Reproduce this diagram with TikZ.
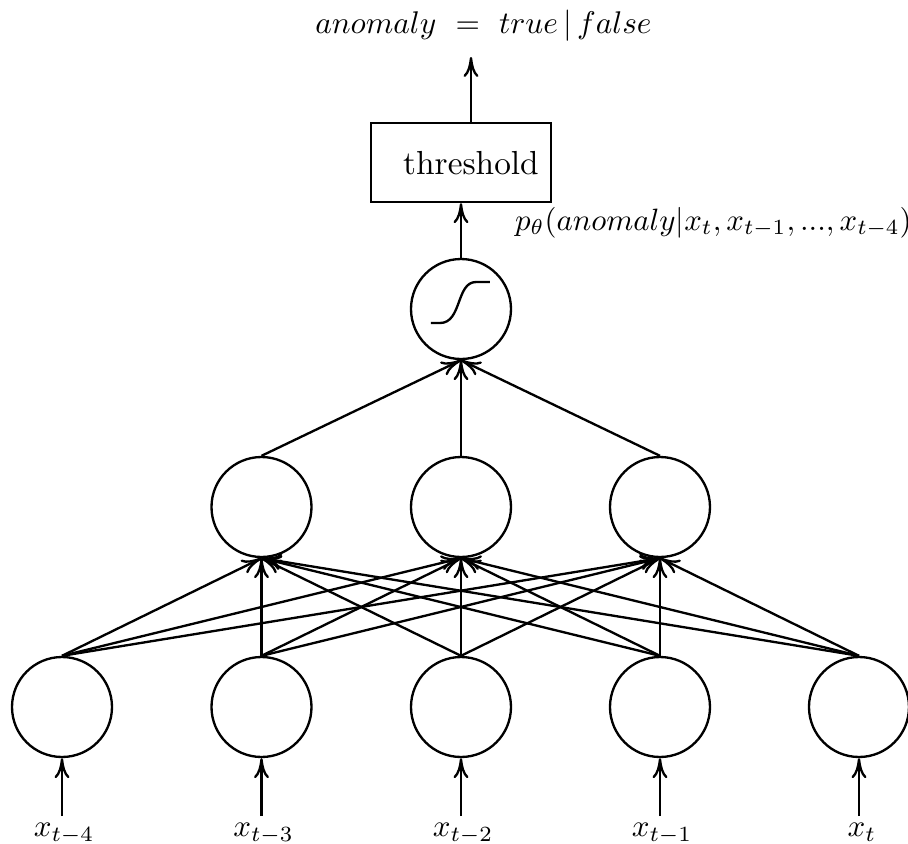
\documentclass[tikz,border=0pt]{standalone}
\usetikzlibrary{arrows.meta}
\begin{document}
\begin{tikzpicture}[x=0.3pt,y=-0.3pt,line width=0.7pt,
  neuron/.style={draw,circle,minimum size=30pt,inner sep=0pt},
  link/.style={-{To[length=6pt,width=4.5pt]}},
  boxnode/.style={draw,minimum width=54pt,minimum height=23.7pt,inner sep=0pt},
  inlabel/.style={anchor=north,inner xsep=0pt,inner ysep=1.8pt}]
\useasboundingbox (0,0) rectangle (908,844);

% input layer
\foreach \i/\x in {1/62,2/261.5,3/461,4/660,5/859}
  \node[neuron] (I\i) at (\x,707) {};
% hidden layer
\foreach \i/\x in {1/261.5,2/461,3/660}
  \node[neuron] (H\i) at (\x,507) {};
% output neuron with its sigmoid sketch
\node[neuron] (S) at (461,309) {};
\draw (431,323) -- (440,323) .. controls (462,323) and (456,282) .. (476,282) -- (490,282);

% threshold box
\node[boxnode] (thr) at (461,162.5) {};
\node[inner sep=0pt] (thrtext) at (471,163.5) {threshold};

% labels
\node[anchor=south,inner xsep=0pt,inner ysep=4.5pt] (top) at (483.5,57)
  {\scalebox{0.94}{$anomaly\ =\ true\,|\,false$}};
\node[anchor=west,inner sep=0pt] (prob) at (514,222.5)
  {\scalebox{0.925}{$p_\theta(anomaly|x_t,x_{t-1},...,x_{t-4})$}};
\node[inlabel] (L1) at (64,816)    {\scalebox{0.93}{$x_{t-4}$}};
\node[inlabel] (L2) at (263.5,816) {\scalebox{0.93}{$x_{t-3}$}};
\node[inlabel] (L3) at (463,816)   {\scalebox{0.93}{$x_{t-2}$}};
\node[inlabel] (L4) at (662,816)   {\scalebox{0.93}{$x_{t-1}$}};
\node[inlabel] (L5) at (862,816)   {\scalebox{0.93}{$x_{t}$}};

% connections
\foreach \i in {1,...,5} {
  \draw[link] (I\i |- L\i.north) -- (I\i.south);
  \foreach \j in {1,2,3}
    \draw[link] (I\i.north) -- (H\j.south);
}
\foreach \j in {1,2,3}
  \draw[link] (H\j.north) -- (S.south);
\draw[link] (S.north) -- (thr.south);
\draw[link] (thrtext |- thr.north) -- (thrtext |- top.south);
\end{tikzpicture}
\end{document}
